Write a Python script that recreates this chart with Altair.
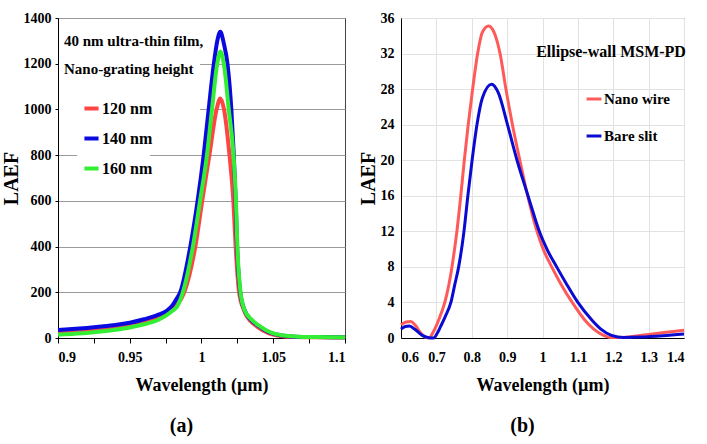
import altair as alt
import pandas as pd

# ---------------- Panel (a) data ----------------
a_series = ["120 nm", "140 nm", "160 nm"]
a_wl_120 = [0.900, 0.910, 0.920, 0.930, 0.940, 0.950, 0.960, 0.970, 0.976, 0.980, 0.983, 0.988,
            0.9957, 1.0005, 1.0055, 1.0105, 1.0131, 1.0157, 1.0195, 1.0222, 1.0238, 1.0262,
            1.0298, 1.034, 1.0387, 1.047, 1.055, 1.065, 1.080, 1.100]
a_val_120 = [22, 26, 30, 36, 43, 54, 68, 88, 108, 128, 145, 200,
             400, 600, 800, 1000, 1048, 1000, 800, 600, 400, 200,
             118, 75, 50, 20, 9, 4, 3, 2]
a_wl_140 = [0.900, 0.910, 0.920, 0.930, 0.940, 0.950, 0.960, 0.970, 0.976, 0.980, 0.982, 0.9852,
            0.9922, 0.9973, 1.0015, 1.005, 1.0085, 1.011, 1.0131, 1.0155, 1.0182, 1.0208,
            1.0225, 1.0238, 1.0248, 1.027, 1.0298, 1.0345, 1.040, 1.047, 1.055, 1.065, 1.080, 1.100]
a_val_140 = [35, 39, 44, 50, 57, 67, 82, 102, 120, 145, 165, 200,
             400, 600, 800, 1000, 1195, 1300, 1340, 1290, 1195, 1000,
             800, 600, 400, 200, 125, 80, 52, 25, 12, 6, 4, 3]
a_wl_160 = [0.900, 0.910, 0.920, 0.930, 0.940, 0.950, 0.960, 0.970, 0.976, 0.980, 0.983, 0.987,
            0.994, 0.999, 1.0038, 1.0073, 1.0105, 1.0131, 1.0158, 1.019, 1.0223, 1.024, 1.025,
            1.0272, 1.030, 1.035, 1.041, 1.049, 1.057, 1.067, 1.080, 1.100]
a_val_160 = [14, 18, 22, 28, 36, 46, 60, 80, 101, 120, 137, 200,
             400, 600, 800, 1000, 1180, 1253, 1190, 1000, 800, 600, 400,
             200, 122, 80, 50, 22, 11, 6, 4, 3]
a_xticks = [0.9, 0.925, 0.95, 0.975, 1.0, 1.025, 1.05, 1.075, 1.1]
a_yticks = [0, 200, 400, 600, 800, 1000, 1200, 1400]

# ---------------- Panel (b) data ----------------
b_series = ["Nano wire", "Bare slit"]
b_wl_nw = [0.600, 0.615, 0.628, 0.640, 0.655, 0.668, 0.680, 0.690, 0.700, 0.710, 0.720, 0.730,
           0.740, 0.750, 0.758, 0.769, 0.779, 0.790, 0.8025, 0.8166, 0.830, 0.8477, 0.865, 0.880,
           0.8966, 0.915, 0.936, 0.958, 0.9705, 0.9845, 1.002, 1.026, 1.053, 1.084, 1.120, 1.145,
           1.170, 1.195, 1.225, 1.260, 1.300, 1.350, 1.400]
b_val_nw = [1.5, 1.8, 1.85, 1.45, 0.6, 0.1, 0.0, 0.6, 1.4, 2.4, 3.5, 5.0,
            7.0, 9.6, 12.0, 16.0, 20.0, 24.0, 28.0, 32.0, 34.4, 35.1, 34.2, 32.0,
            28.0, 24.0, 20.0, 16.0, 14.0, 12.0, 10.0, 8.0, 6.0, 4.0, 2.0, 1.0,
            0.35, 0.05, 0.05, 0.2, 0.4, 0.65, 0.87]
b_wl_bs = [0.600, 0.612, 0.624, 0.640, 0.660, 0.680, 0.692, 0.702, 0.712, 0.725, 0.741, 0.752,
           0.763, 0.778, 0.789, 0.801, 0.8147, 0.830, 0.856, 0.875, 0.901, 0.928, 0.959,
           0.9745, 0.991, 1.0125, 1.040, 1.069, 1.100, 1.140, 1.165, 1.195, 1.230, 1.280,
           1.340, 1.400]
b_val_bs = [1.0, 1.3, 1.35, 0.95, 0.3, 0.02, 0.0, 0.5, 1.3, 2.4, 4.0, 6.0,
            8.0, 12.0, 16.0, 20.0, 24.0, 27.0, 28.55, 27.6, 24.0, 20.0, 16.0,
            14.0, 12.0, 10.0, 8.0, 6.0, 4.0, 2.0, 1.0, 0.3, 0.05, 0.1,
            0.25, 0.45]
b_xticks = [0.6, 0.7, 0.8, 0.9, 1.0, 1.1, 1.2, 1.3, 1.4]
b_yticks = [0, 4, 8, 12, 16, 20, 24, 28, 32, 36]

FONT = "Liberation Serif"

df_a = pd.concat([
    pd.DataFrame({"wl": a_wl_120, "laef": a_val_120, "series": "120 nm"}),
    pd.DataFrame({"wl": a_wl_140, "laef": a_val_140, "series": "140 nm"}),
    pd.DataFrame({"wl": a_wl_160, "laef": a_val_160, "series": "160 nm"}),
])
df_b = pd.concat([
    pd.DataFrame({"wl": b_wl_nw, "laef": b_val_nw, "series": "Nano wire"}),
    pd.DataFrame({"wl": b_wl_bs, "laef": b_val_bs, "series": "Bare slit"}),
])

axis_common = dict(labelFont=FONT, labelFontWeight="bold", labelFontSize=14, labelColor="black",
                   titleFont=FONT, titleFontWeight="bold", titleColor="black",
                   domainColor="black", tickColor="black")

# ---------------- Panel (a) ----------------
color_a = alt.Color(
    "series:N",
    scale=alt.Scale(domain=a_series, range=["#ff4444", "#0a0ae0", "#33ee33"]),
    legend=alt.Legend(
        title=["40 nm ultra-thin film,", "Nano-grating height"],
        orient="none", legendX=2, legendY=12,
        symbolType="stroke", symbolStrokeWidth=4, symbolSize=200,
        symbolOffset=18, labelOffset=1,
        labelFont=FONT, labelFontWeight="bold", labelFontSize=16, labelColor="black",
        titleFont=FONT, titleFontWeight="bold", titleFontSize=15, titleColor="black",
        titleLineHeight=28, titlePadding=22, rowPadding=12, padding=4,
    ),
)
x_a = alt.X("wl:Q", scale=alt.Scale(domain=[0.9, 1.1], nice=False),
            axis=alt.Axis(values=a_xticks, format="~g", grid=False, tickSize=5, labelPadding=7,
                          labelExpr="indexof(['0.9','0.95','1','1.05','1.1'], datum.label) >= 0 ? datum.label : ''",
                          title="Wavelength  (\u00b5m)", titleFontSize=18, titlePadding=12,
                          **axis_common))
y_a = alt.Y("laef:Q", scale=alt.Scale(domain=[0, 1400], nice=False),
            axis=alt.Axis(values=a_yticks, format="d", grid=True, gridColor="#9a9a9a",
                          tickSize=3, labelPadding=4, title="LAEF", titleFontSize=20,
                          titlePadding=2, **axis_common))

# white backing behind the legend text (hides grid lines, stays under the curves)
back_top = (alt.Chart(pd.DataFrame({"k": ["top"]})).mark_rect(color="white")
            .encode(x=alt.value(1), x2=alt.value(142), y=alt.value(10), y2=alt.value(118)))
back_low = (alt.Chart(pd.DataFrame({"k": ["low"]})).mark_rect(color="white")
            .encode(x=alt.value(19), x2=alt.value(92), y=alt.value(118), y2=alt.value(165)))

layers_a = [back_top, back_low]
for s in ["120 nm", "140 nm", "160 nm"]:
    layers_a.append(
        alt.Chart(df_a).transform_filter(alt.datum.series == s)
        .mark_line(strokeWidth=4, interpolate="monotone")
        .encode(x=x_a, y=y_a, color=color_a)
    )
chart_a = alt.layer(*layers_a).properties(
    width=287, height=320,
    view=alt.ViewBackground(stroke="#444444"),
    title=alt.TitleParams("(a)", orient="bottom", dx=-20, fontSize=20, font=FONT,
                          fontWeight="bold", color="black", offset=22),
)

# ---------------- Panel (b) ----------------
color_b = alt.Color(
    "series:N",
    scale=alt.Scale(domain=b_series, range=["#ff5a5a", "#0a0ad0"]),
    legend=alt.Legend(
        title=None, orient="none", legendX=184, legendY=72,
        symbolType="stroke", symbolStrokeWidth=3, symbolSize=220, labelOffset=1,
        labelFont=FONT, labelFontWeight="bold", labelFontSize=15, labelColor="black",
        rowPadding=20,
    ),
)
x_b = alt.X("wl:Q", scale=alt.Scale(domain=[0.6, 1.4], nice=False),
            axis=alt.Axis(values=b_xticks, format="~g", grid=True, gridColor="#e2e2e2",
                          tickSize=0, labelPadding=12,
                          title="Wavelength  (\u00b5m)", titleFontSize=18, titlePadding=12,
                          **axis_common))
y_b = alt.Y("laef:Q", scale=alt.Scale(domain=[0, 36], nice=False),
            axis=alt.Axis(values=b_yticks, format="d", grid=True, gridColor="#e2e2e2",
                          tickSize=0, labelPadding=7, title="LAEF", titleFontSize=20,
                          titlePadding=2, **axis_common))

lines_b = (alt.Chart(df_b).mark_line(strokeWidth=3, interpolate="monotone")
           .encode(x=x_b, y=y_b, color=color_b, order=alt.Order("wl:Q")))
label_b = (alt.Chart(pd.DataFrame({"t": ["Ellipse-wall MSM-PD"]}))
           .mark_text(font=FONT, fontWeight="bold", fontSize=16, color="black",
                      align="center", baseline="middle")
           .encode(text="t:N", x=alt.value(210), y=alt.value(34)))
chart_b = alt.layer(lines_b, label_b).properties(
    width=283, height=320,
    view=alt.ViewBackground(stroke="#444444"),
    title=alt.TitleParams("(b)", orient="bottom", dx=-20, fontSize=20, font=FONT,
                          fontWeight="bold", color="black", offset=22),
)

chart = (alt.hconcat(chart_a, chart_b, spacing=3)
         .resolve_scale(color="independent")
         .properties(padding={"left": 0, "top": 10, "right": 10, "bottom": 2})
         .configure(background="white"))

chart.save("out.html", embed_options={"renderer": "svg", "actions": False})
